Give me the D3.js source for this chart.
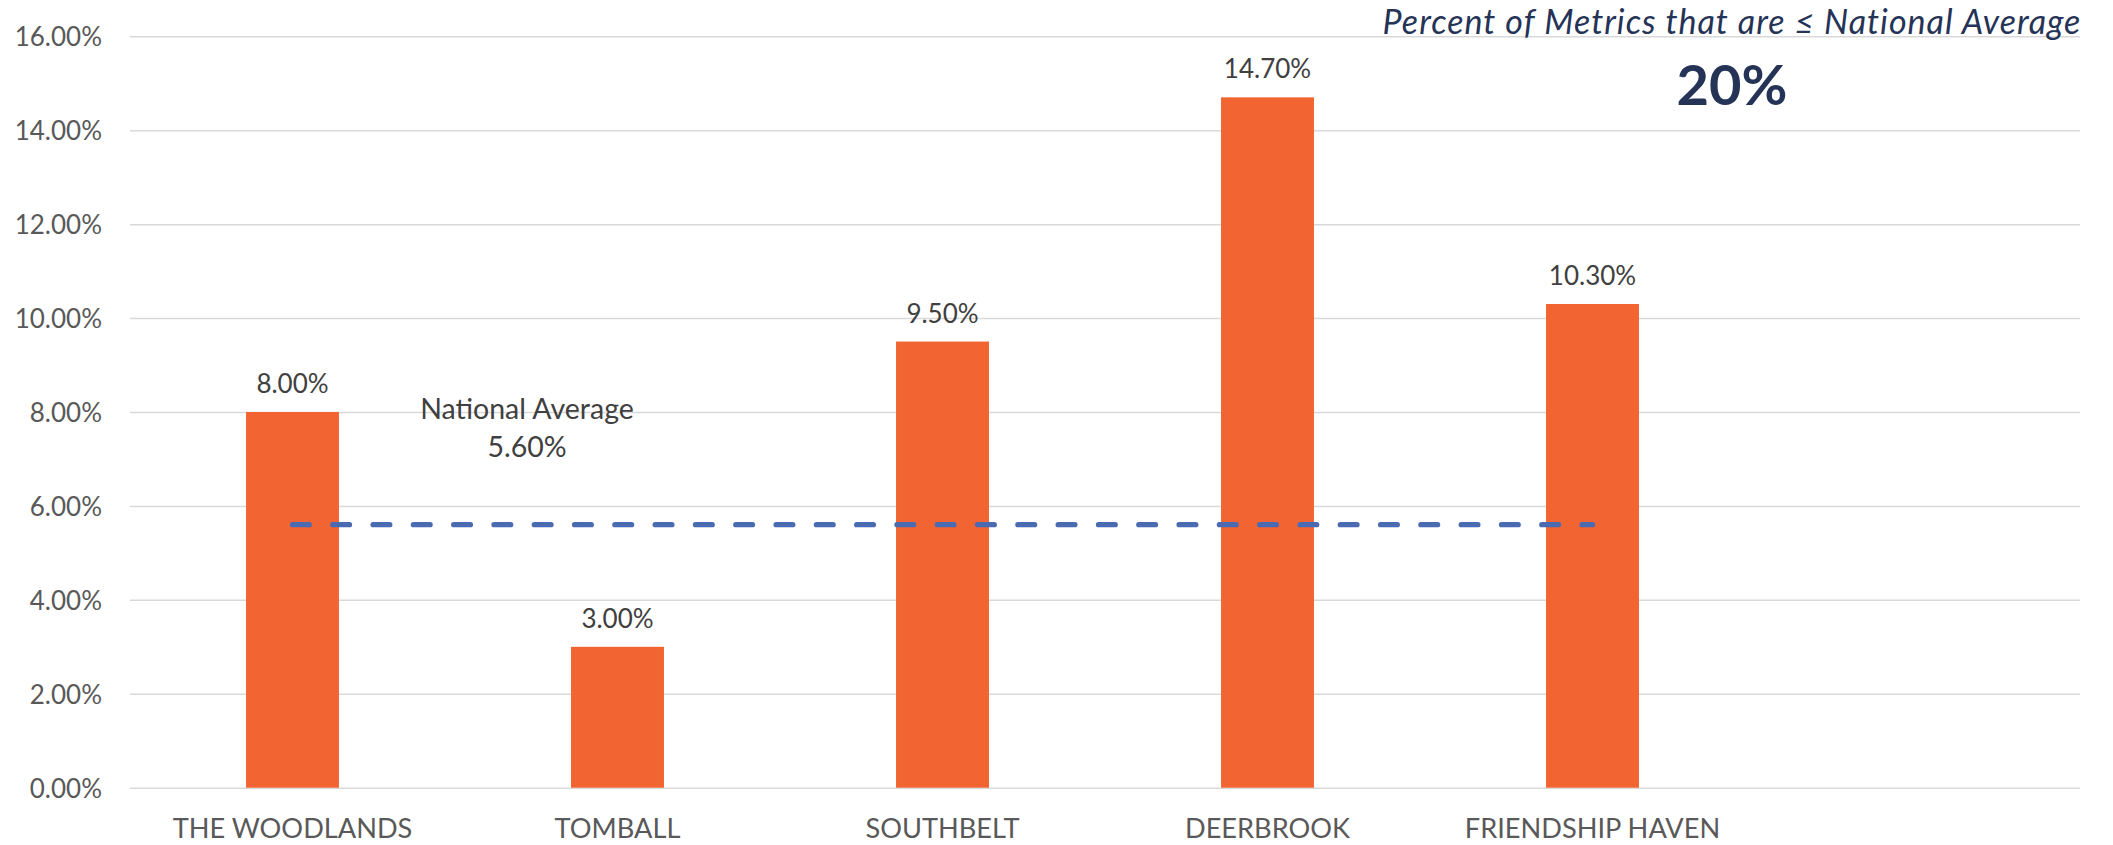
<!DOCTYPE html>
<html>
<head>
<meta charset="utf-8">
<script src="https://cdn.jsdelivr.net/npm/d3@7"></script>
<style>
  html, body { margin: 0; padding: 0; background: #ffffff; }
  svg { display: block; }
  text { font-family: Lato, "Open Sans", sans-serif; }
</style>
</head>
<body>
<svg id="chart" width="2113" height="845"></svg>
<script>
// Site results vs. the national average
const categories = ["THE WOODLANDS", "TOMBALL", "SOUTHBELT", "DEERBROOK", "FRIENDSHIP HAVEN"];
const values = [8.0, 3.0, 9.5, 14.7, 10.3];
const nationalAverage = [5.6, 5.6, 5.6, 5.6, 5.6];
const yTicks = [0, 2, 4, 6, 8, 10, 12, 14, 16];
const headline = "Percent of Metrics that are \u2264 National Average";
const headlineValue = "20%";
const averageLabel = ["National Average", "5.60%"];

const W = 2113, H = 845;
const margin = { left: 130, right: 33, top: 36.3, bottom: 57.3 };
const innerW = W - margin.left - margin.right;
const innerH = H - margin.top - margin.bottom;

const svg = d3.select("#chart");
const g = svg.append("g").attr("transform", `translate(${margin.left},${margin.top})`);

// One trailing empty slot keeps the category spacing of the original layout
const x = d3.scaleBand()
  .domain(categories.concat([""]))
  .range([0, innerW])
  .paddingInner(0.714)
  .paddingOuter(0.357);

const y = d3.scaleLinear().domain([0, 16]).range([innerH, 0]);
const fmt = v => v.toFixed(2) + "%";
const cx = d => x(d) + x.bandwidth() / 2;

// Gridlines and y tick labels
const yAxis = g.append("g")
  .call(d3.axisLeft(y).tickValues(yTicks).tickFormat(fmt).tickSize(-innerW).tickPadding(28));
yAxis.select(".domain").remove();
yAxis.selectAll(".tick line").attr("stroke", "#d9d9d9").attr("stroke-width", 1.5);
yAxis.selectAll(".tick text")
  .attr("fill", "#595959")
  .style("font-size", "26px")
  .attr("dy", "0.36em");

// Category labels
const xAxis = g.append("g")
  .attr("transform", `translate(0,${innerH})`)
  .call(d3.axisBottom(x).tickSize(0));
xAxis.select(".domain").remove();
xAxis.selectAll(".tick").filter(d => d === "").remove();
xAxis.selectAll(".tick text")
  .attr("fill", "#595959")
  .style("font-size", "27.2px")
  .attr("y", 50.6)
  .attr("dy", 0);

// Bars
g.selectAll("rect.bar")
  .data(categories.map((c, i) => ({ c, v: values[i] })))
  .join("rect")
  .attr("class", "bar")
  .attr("x", d => x(d.c))
  .attr("width", x.bandwidth())
  .attr("y", d => y(d.v))
  .attr("height", d => y(0) - y(d.v))
  .attr("fill", "#f26532");

// Value labels above bars
g.selectAll("text.value")
  .data(categories.map((c, i) => ({ c, v: values[i] })))
  .join("text")
  .attr("class", "value")
  .attr("x", d => cx(d.c))
  .attr("y", d => y(d.v) - 19)
  .attr("text-anchor", "middle")
  .attr("fill", "#404040")
  .style("font-size", "26px")
  .text(d => fmt(d.v));

// National average dashed line
const line = d3.line()
  .x((d, i) => cx(categories[i]))
  .y(d => y(d));
g.append("path")
  .datum(nationalAverage)
  .attr("d", line)
  .attr("fill", "none")
  .attr("stroke", "#4a6ab2")
  .attr("stroke-width", 5.3)
  .attr("stroke-linecap", "round")
  .attr("stroke-dasharray", "16.7 23.6");

// National average annotation
const avgText = g.append("text")
  .attr("text-anchor", "middle")
  .attr("fill", "#404040")
  .style("font-size", "28.5px");
averageLabel.forEach((t, i) => {
  avgText.append("tspan")
    .attr("x", 397)
    .attr("y", y(nationalAverage[0]) - 106 + i * 38)
    .text(t);
});

// Headline block, top right
const hx = 1732;
svg.append("text")
  .attr("x", hx)
  .attr("y", 34.3)
  .attr("text-anchor", "middle")
  .attr("fill", "#253356")
  .style("font-size", "34px")
  .style("letter-spacing", "1px")
  .style("font-style", "italic")
  .text(headline);
svg.append("text")
  .attr("x", hx)
  .attr("y", 105)
  .attr("text-anchor", "middle")
  .attr("fill", "#253356")
  .style("font-size", "56px")
  .style("font-weight", "bold")
  .text(headlineValue);
</script>
</body>
</html>
